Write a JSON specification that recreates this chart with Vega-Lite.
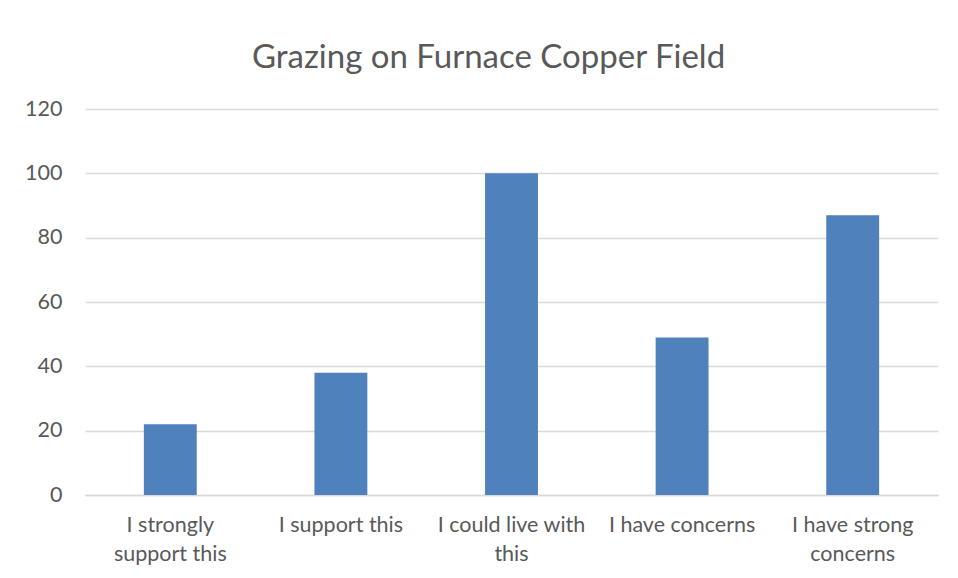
{
  "$schema": "https://vega.github.io/schema/vega-lite/v6.json",
  "width": 853,
  "height": 386,
  "autosize": {"type": "none"},
  "padding": {"left": 85, "top": 109, "right": 20, "bottom": 83},
  "background": "white",
  "title": {
    "text": "Grazing on Furnace Copper Field",
    "font": "Lato",
    "fontSize": 33,
    "fontWeight": "normal",
    "color": "#595959",
    "anchor": "middle",
    "dx": -23,
    "baseline": "alphabetic",
    "offset": -3
  },
  "data": {
    "values": [
      {"response": "I strongly support this", "count": 22},
      {"response": "I support this", "count": 38},
      {"response": "I could live with this", "count": 100},
      {"response": "I have concerns", "count": 49},
      {"response": "I have strong concerns", "count": 87}
    ]
  },
  "mark": {"type": "bar", "color": "#4F81BD"},
  "encoding": {
    "x": {
      "field": "response",
      "type": "nominal",
      "sort": null,
      "title": null,
      "scale": {"paddingInner": 0.69, "paddingOuter": 0.345},
      "axis": {
        "labelAngle": 0,
        "labelFont": "Lato",
        "labelFontSize": 21.5,
        "labelColor": "#595959",
        "labelPadding": 19,
        "labelLineHeight": 29,
        "labelBaseline": "top",
        "ticks": false,
        "domainColor": "#d9d9d9",
        "domainWidth": 1.5,
        "labelExpr": "datum.label == 'I strongly support this' ? ['I strongly', 'support this'] : datum.label == 'I could live with this' ? ['I could live with', 'this'] : datum.label == 'I have strong concerns' ? ['I have strong', 'concerns'] : datum.label"
      }
    },
    "y": {
      "field": "count",
      "type": "quantitative",
      "title": null,
      "scale": {"domain": [0, 120]},
      "axis": {
        "values": [0, 20, 40, 60, 80, 100, 120],
        "labelFont": "Lato",
        "labelFontSize": 21.5,
        "labelColor": "#595959",
        "labelPadding": 23,
        "ticks": false,
        "domain": false,
        "gridColor": "#d9d9d9",
        "gridWidth": 1.5
      }
    }
  },
  "config": {"view": {"stroke": null}}
}
